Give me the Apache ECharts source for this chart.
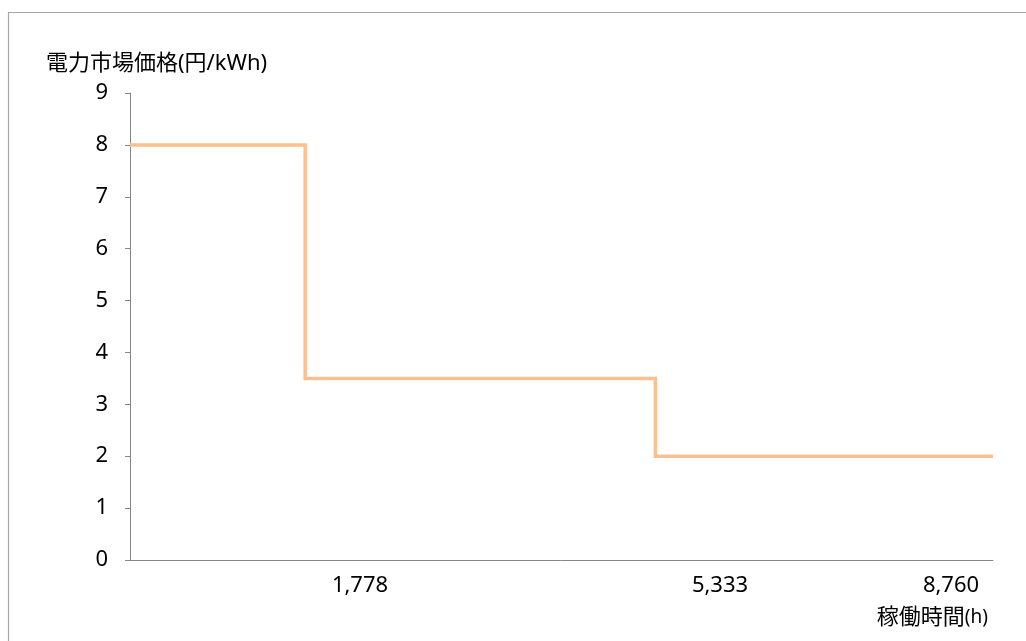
<!DOCTYPE html>
<html>
<head>
<meta charset="utf-8">
<script src="https://cdn.jsdelivr.net/npm/echarts@6/dist/echarts.min.js"></script>
<style>
  html, body { margin: 0; padding: 0; background: #fff; }
  #chart { width: 1026px; height: 641px; }
</style>
</head>
<body>
<div id="chart"></div>
<script>
// Operating hours (h) at each corner of the price step curve
var hours = [0, 1778, 1778, 5333, 5333, 8760];
// Market price (yen/kWh) at each corner
var prices = [8, 8, 3.5, 3.5, 2, 2];
// Hour labels written under the horizontal axis
var hourLabels = ['1,778', '5,333', '8,760'];
var hourLabelX = [360, 720, 951];

var yTitle = '電力市場価格(円/kWh)';
var xTitle = '稼働時間';

var FONT = '"Noto Sans", "Noto Sans CJK JP", sans-serif';

var chart = echarts.init(document.getElementById('chart'), null, { renderer: 'canvas' });

var points = hours.map(function (h, i) { return [h, prices[i]]; });

var graphics = [
  // frame around the chart area
  {
    type: 'polyline',
    shape: { points: [[8.5, 641], [8.5, 12.5], [1026, 12.5]] },
    style: { stroke: '#a6a6a6', lineWidth: 1.2, fill: null }
  },
  {
    type: 'text', left: 46, top: 53,
    style: { text: yTitle, font: '22px ' + FONT, fill: '#000' }
  },
  {
    type: 'text', right: 38, top: 607,
    style: {
      text: xTitle + '{s|(h)}', font: '22px ' + FONT, fill: '#000',
      rich: { s: { fontSize: 19, fontFamily: FONT, fill: '#000' } }
    }
  }
];
hourLabels.forEach(function (t, i) {
  graphics.push({
    type: 'text', x: hourLabelX[i], y: 586,
    style: { text: t, font: '22px ' + FONT, fill: '#000', align: 'center', verticalAlign: 'middle' }
  });
});

chart.setOption({
  animation: false,
  backgroundColor: '#fff',
  grid: { left: 130, right: 33, top: 93, bottom: 81, containLabel: false },
  xAxis: {
    type: 'value', min: 0, max: 8760,
    axisLine: { show: true, lineStyle: { color: '#868686', width: 1 } },
    axisTick: { show: false },
    axisLabel: { show: false },
    splitLine: { show: false }
  },
  yAxis: {
    type: 'value', min: 0, max: 9, interval: 1,
    axisLine: { show: true, lineStyle: { color: '#868686', width: 1 } },
    axisTick: { show: true, inside: false, length: 5, lineStyle: { color: '#868686' } },
    axisLabel: { margin: 22, fontSize: 22, color: '#000', fontFamily: FONT },
    splitLine: { show: false }
  },
  graphic: graphics,
  series: [{
    type: 'line',
    data: points,
    showSymbol: false,
    symbol: 'none',
    lineStyle: { color: '#FAC090', width: 3.5, join: 'miter' },
    z: 3
  }]
});
</script>
</body>
</html>
